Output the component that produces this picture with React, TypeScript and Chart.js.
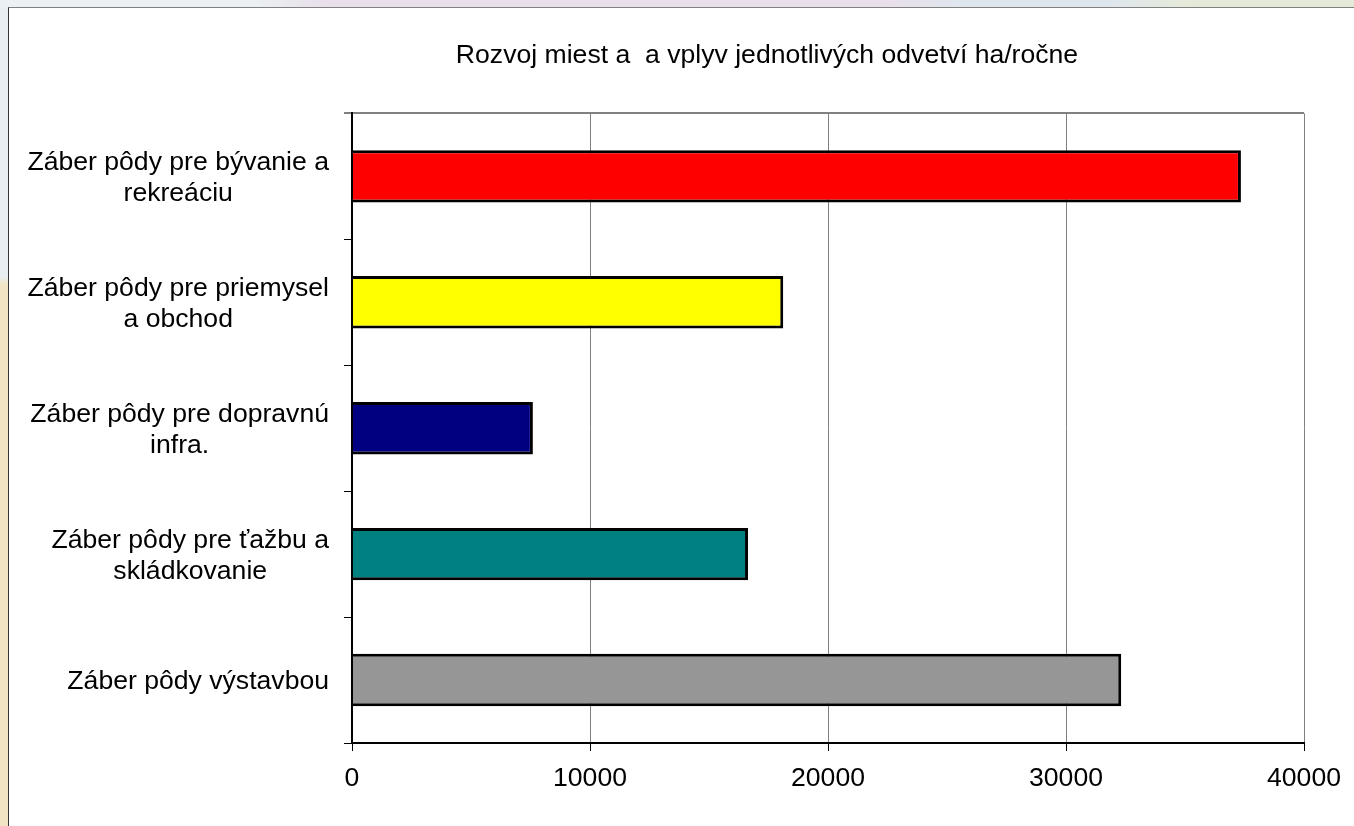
import React, { useEffect, useRef } from "react";
import { Chart, registerables } from "chart.js";

Chart.register(...registerables);

const titleText = "Rozvoj miest a  a vplyv jednotlivých odvetví ha/ročne";
const categories = [
  ["Záber pôdy pre bývanie a", "rekreáciu"],
  ["Záber pôdy pre priemysel", "a obchod"],
  ["Záber pôdy pre dopravnú", "infra."],
  ["Záber pôdy pre ťažbu a", "skládkovanie"],
  ["Záber pôdy výstavbou"],
];
const values = [37350, 18120, 7600, 16640, 32320];
const barColors = ["#ff0000", "#ffff00", "#000080", "#008080", "#969696"];

const FONT = "'Liberation Sans', Arial, sans-serif";
const FONT_SIZE = 26.6;

const layoutTweaks = {
  id: "layoutTweaks",
  afterLayout(chart: any) {
    // the title is centred on x=766 in the reference
    if (chart.titleBlock) {
      chart.titleBlock.left = 178;
      chart.titleBlock.right = 1356;
    }
  },
  beforeDraw(chart: any) {
    // block-centre the wrapped category labels while keeping the block right-aligned
    const scale = chart.scales.y;
    const ctx = chart.ctx;
    ctx.save();
    for (const item of scale.getLabelItems()) {
      if (item.__centred || !Array.isArray(item.label)) continue;
      ctx.font = item.font.string;
      const w = Math.max(...item.label.map((s: string) => ctx.measureText(s).width));
      item.options.textAlign = "center";
      item.options.translation = [item.options.translation[0] - w / 2, item.options.translation[1] + 2];
      item.__centred = true;
    }
    ctx.restore();
  },
};

export default function App() {
  const ref = useRef<HTMLCanvasElement>(null);
  useEffect(() => {
    document.body.style.margin = "0";
    const chart = new Chart(ref.current!, {
      type: "bar",
      data: {
        labels: categories as any,
        datasets: [
          {
            data: values,
            backgroundColor: barColors,
            borderColor: "#000000",
            borderWidth: 3,
            borderSkipped: "left",
            barPercentage: 0.416,
            categoryPercentage: 1,
          },
        ],
      },
      options: {
        indexAxis: "y",
        animation: false,
        responsive: false,
        layout: { padding: { left: 0, right: 50, top: 0, bottom: 0 } },
        plugins: {
          legend: { display: false },
          tooltip: { enabled: false },
          title: {
            display: true,
            text: titleText,
            color: "#000000",
            font: { family: FONT, size: FONT_SIZE, weight: "normal" },
            padding: { top: 39.5, bottom: 42 },
          },
        },
        scales: {
          x: {
            type: "linear",
            min: 0,
            max: 40000,
            afterFit(s: any) {
              s.height = 83;
            },
            ticks: {
              stepSize: 10000,
              color: "#000000",
              font: { family: FONT, size: FONT_SIZE },
              padding: 12,
              maxRotation: 0,
              callback: (v: any) => String(v),
            },
            grid: { color: "#808080", lineWidth: 1, tickLength: 8, tickColor: "#000000" },
            border: { color: "#000000", width: 2, z: 1 },
          },
          y: {
            type: "category",
            afterFit(s: any) {
              s.width = 352;
            },
            ticks: {
              color: "#000000",
              font: { family: FONT, size: FONT_SIZE, lineHeight: 1.17 },
              padding: 15,
              autoSkip: false,
            },
            grid: {
              color: (c: any) => (c.index === 0 ? "#808080" : "transparent"),
              lineWidth: (c: any) => (c.index === 0 ? 2 : 1),
              tickLength: 8,
              tickColor: "#000000",
              tickWidth: 1,
            },
            border: { color: "#000000", width: 2, z: 1 },
          },
        },
      },
      plugins: [layoutTweaks],
    } as any);
    return () => chart.destroy();
  }, []);

  return (
    <div
      style={{
        position: "absolute",
        left: 0,
        top: 0,
        width: 1354,
        height: 826,
        overflow: "hidden",
        background: "linear-gradient(#e9eef0 0 33.5%, #f0e4c4 34.5% 100%)",
      }}
    >
      <div
        style={{
          position: "absolute",
          left: 0,
          top: 0,
          width: 1354,
          height: 8,
          background:
            "linear-gradient(90deg, #ebf0f2 0 19%, #e8dfea 24% 66%, #dfe7ee 71% 82%, #e5ead8 88% 100%)",
        }}
      />
      <div
        style={{
          position: "absolute",
          left: 8,
          top: 7,
          width: 1346,
          height: 819,
          boxSizing: "border-box",
          background: "#ffffff",
          borderLeft: "1px solid #333333",
          borderTop: "1px solid #808080",
        }}
      />
      <canvas ref={ref} width={1354} height={826} style={{ position: "absolute", left: 0, top: 0 }} />
    </div>
  );
}
